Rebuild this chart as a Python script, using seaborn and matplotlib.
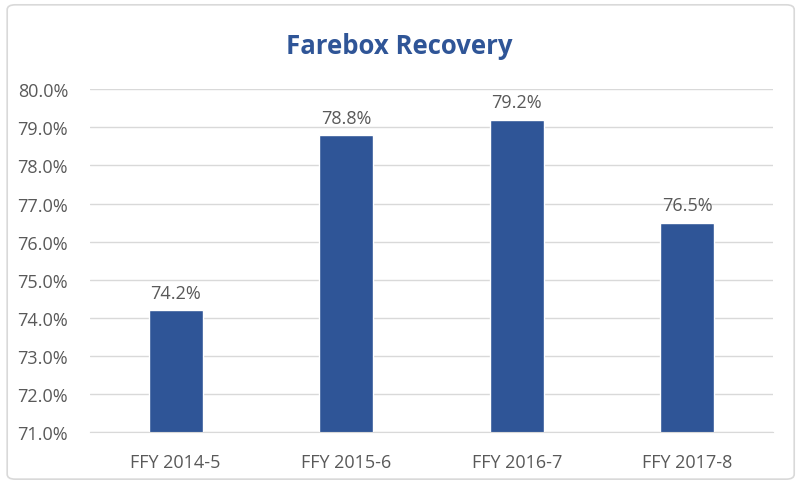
import matplotlib
matplotlib.use('Agg')
import matplotlib.pyplot as plt
import seaborn as sns
import pandas as pd
from matplotlib.patches import FancyBboxPatch

# data
years = ['FFY 2014-5', 'FFY 2015-6', 'FFY 2016-7', 'FFY 2017-8']
recovery = [74.2, 78.8, 79.2, 76.5]
yticks = [71, 72, 73, 74, 75, 76, 77, 78, 79, 80]

df = pd.DataFrame({'year': years, 'recovery': recovery})

sns.set_style('white')
plt.rcParams['font.family'] = ['Open Sans', 'DejaVu Sans']

grey = '#595959'
fig = plt.figure(figsize=(7.99, 4.85), dpi=100)
ax = fig.add_axes([0.113, 0.107, 0.854, 0.707])

sns.barplot(data=df, x='year', y='recovery', color='#2F5597', width=0.316,
            saturation=1, ax=ax)

ax.set_ylim(71, 80)
ax.set_yticks(yticks)
ax.set_yticklabels([f'{t:.1f}%' for t in yticks])
ax.yaxis.grid(True, color='#D9D9D9', linewidth=1)
ax.set_axisbelow(True)
for s in ['top', 'right', 'left']:
    ax.spines[s].set_visible(False)
ax.spines['bottom'].set_color('#D9D9D9')
ax.tick_params(axis='both', length=0, labelsize=13, colors=grey)
ax.tick_params(axis='y', pad=16)
ax.tick_params(axis='x', pad=15)
ax.set_xlabel('')
ax.set_ylabel('')

for i, v in enumerate(recovery):
    ax.annotate(f'{v:.1f}%', (i, v), xytext=(0, 6), textcoords='offset points',
                ha='center', va='bottom', fontsize=13, color=grey)

fig.text(0.5, 0.905, 'Farebox Recovery', ha='center', va='center',
         fontsize=18.5, fontweight='bold', color='#2F5597')

border = FancyBboxPatch((0.009, 0.01), 0.985, 0.978, boxstyle='round,pad=0,rounding_size=0.01',
                        transform=fig.transFigure, fill=False, edgecolor='#D9D9D9', linewidth=1.2)
fig.patches.append(border)

fig.savefig('out.png', dpi=100)
